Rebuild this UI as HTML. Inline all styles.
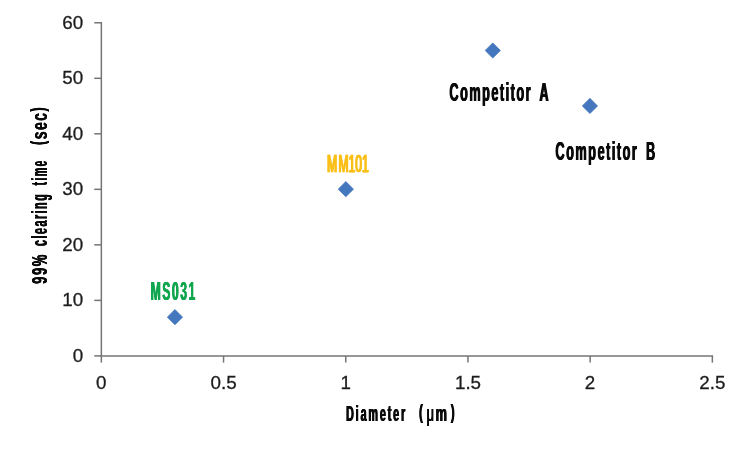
<!DOCTYPE html>
<html><head><meta charset="utf-8"><title>Chart</title>
<style>
html,body{margin:0;padding:0;background:#fff;}
body{width:748px;height:455px;overflow:hidden;}
svg{display:block;}
text{font-family:"Liberation Sans",sans-serif;}
.tick{font-size:18.8px;fill:#1c1c1c;stroke:#1c1c1c;stroke-width:0.3px;}
</style></head><body>
<svg width="748" height="455" viewBox="0 0 748 455">
<rect width="748" height="455" fill="#fff"/>

<g stroke="#757575" stroke-width="1.5" fill="none" stroke-linejoin="round">
<path d="M101.35 22.03V356.65"/>
<path d="M100.60 355.9H713.10"/>
<path d="M94.25 355.90H101.35"/>
<path d="M94.25 300.38H101.35"/>
<path d="M94.25 244.86H101.35"/>
<path d="M94.25 189.34H101.35"/>
<path d="M94.25 133.82H101.35"/>
<path d="M94.25 78.30H101.35"/>
<path d="M94.25 22.78H101.35"/>
<path d="M101.35 355.9V362.60"/>
<path d="M223.55 355.9V362.60"/>
<path d="M345.75 355.9V362.60"/>
<path d="M467.95 355.9V362.60"/>
<path d="M590.15 355.9V362.60"/>
<path d="M712.35 355.9V362.60"/>
</g>
<text class="tick" x="83.1" y="361.85" text-anchor="end">0</text>
<text class="tick" x="83.1" y="306.33" text-anchor="end">10</text>
<text class="tick" x="83.1" y="250.81" text-anchor="end">20</text>
<text class="tick" x="83.1" y="195.29" text-anchor="end">30</text>
<text class="tick" x="83.1" y="139.77" text-anchor="end">40</text>
<text class="tick" x="83.1" y="84.25" text-anchor="end">50</text>
<text class="tick" x="83.1" y="28.73" text-anchor="end">60</text>
<text class="tick" x="101.3" y="388.6" text-anchor="middle">0</text>
<text class="tick" x="223.6" y="388.6" text-anchor="middle">0.5</text>
<text class="tick" x="345.8" y="388.6" text-anchor="middle">1</text>
<text class="tick" x="468.0" y="388.6" text-anchor="middle">1.5</text>
<text class="tick" x="590.1" y="388.6" text-anchor="middle">2</text>
<text class="tick" x="712.4" y="388.6" text-anchor="middle">2.5</text>
<path d="M174.94 309.54L182.54 317.14L174.94 324.74L167.34 317.14Z" fill="#4477bd" stroke="#4477bd" stroke-width="0.8" stroke-linejoin="round"/>
<path d="M345.86 181.54L353.46 189.14L345.86 196.74L338.26 189.14Z" fill="#4477bd" stroke="#4477bd" stroke-width="0.8" stroke-linejoin="round"/>
<path d="M492.77 42.90L500.37 50.50L492.77 58.10L485.17 50.50Z" fill="#4477bd" stroke="#4477bd" stroke-width="0.8" stroke-linejoin="round"/>
<path d="M589.94 98.34L597.54 105.94L589.94 113.54L582.34 105.94Z" fill="#4477bd" stroke="#4477bd" stroke-width="0.8" stroke-linejoin="round"/>
<text id="ca1" font-weight="bold" transform="translate(449.42,100.7) scale(0.5080,1)" font-size="25.0" fill="#0a0a0a" style="letter-spacing:2.95px;text-shadow:0.59px 0 0 #0a0a0a,-0.59px 0 0 #0a0a0a;">Competitor</text>
<text id="ca2" font-weight="bold" transform="translate(539.50,100.7) scale(0.4992,1)" font-size="25.0" fill="#0a0a0a" style="letter-spacing:3.01px;text-shadow:0.60px 0 0 #0a0a0a,-0.60px 0 0 #0a0a0a;">A</text>
<text id="cb1" font-weight="bold" transform="translate(555.46,159.5) scale(0.5091,1)" font-size="25.0" fill="#0a0a0a" style="letter-spacing:2.95px;text-shadow:0.59px 0 0 #0a0a0a,-0.59px 0 0 #0a0a0a;">Competitor</text>
<text id="cb2" font-weight="bold" transform="translate(646.04,159.5) scale(0.5041,1)" font-size="25.0" fill="#0a0a0a" style="letter-spacing:2.98px;text-shadow:0.60px 0 0 #0a0a0a,-0.60px 0 0 #0a0a0a;">B</text>
<text id="mm" font-weight="normal" transform="translate(327.12,172.1) scale(0.4900,1)" font-size="24.6" fill="#fbbf17" stroke="#fbbf17" stroke-width="0.4" stroke-linejoin="round" style="letter-spacing:2.86px;text-shadow:0.82px 0 0 #fbbf17,-0.82px 0 0 #fbbf17;">M<tspan style="letter-spacing:0.00px">M101</tspan></text>
<text id="ms" font-weight="bold" transform="translate(150.62,300.0) scale(0.4883,1)" font-size="25.0" fill="#10a64f" style="letter-spacing:3.07px;text-shadow:0.51px 0 0 #10a64f,-0.51px 0 0 #10a64f;">MS031</text>
<text id="xd" font-weight="bold" transform="translate(346.08,421.1) scale(0.4724,1)" font-size="22.7" fill="#0a0a0a" style="letter-spacing:4.02px;text-shadow:0.64px 0 0 #0a0a0a,-0.64px 0 0 #0a0a0a;">Diameter</text>
<text id="xu" font-weight="bold" transform="translate(419.04,421.1) scale(0.5647,1)" font-size="22.7" fill="#0a0a0a" style="letter-spacing:5.31px;text-shadow:0.53px 0 0 #0a0a0a,-0.53px 0 0 #0a0a0a;"><tspan font-size="19.8" dy="-2.2">(</tspan><tspan font-weight="normal" dx="1.5" dy="2.2">μ</tspan><tspan dx="-2.5">m</tspan><tspan font-size="19.8" dx="1.5" dy="-2.2">)</tspan></text>
<text id="y1" font-weight="bold" transform="translate(46.7,283.88) rotate(-90) scale(0.5747,1)" font-size="22.9" fill="#0a0a0a" style="letter-spacing:2.61px;text-shadow:0.31px 0 0 #0a0a0a,-0.31px 0 0 #0a0a0a;">99%</text>
<text id="y2" font-weight="bold" transform="translate(46.7,246.00) rotate(-90) scale(0.4701,1)" font-size="22.9" fill="#0a0a0a" style="letter-spacing:3.19px;text-shadow:0.38px 0 0 #0a0a0a,-0.38px 0 0 #0a0a0a;">clearing</text>
<text id="y3" font-weight="bold" transform="translate(46.7,185.16) rotate(-90) scale(0.4187,1)" font-size="22.9" fill="#0a0a0a" style="letter-spacing:3.58px;text-shadow:0.43px 0 0 #0a0a0a,-0.43px 0 0 #0a0a0a;">time</text>
<text id="y4" font-weight="bold" transform="translate(46.7,144.88) rotate(-90) scale(0.6085,1)" font-size="22.9" fill="#0a0a0a" style="letter-spacing:2.47px;text-shadow:0.30px 0 0 #0a0a0a,-0.30px 0 0 #0a0a0a;"><tspan font-size="20" dy="-2.1">(</tspan><tspan dy="2.1">sec</tspan><tspan font-size="20" dy="-2.1">)</tspan></text>
</svg></body></html>
